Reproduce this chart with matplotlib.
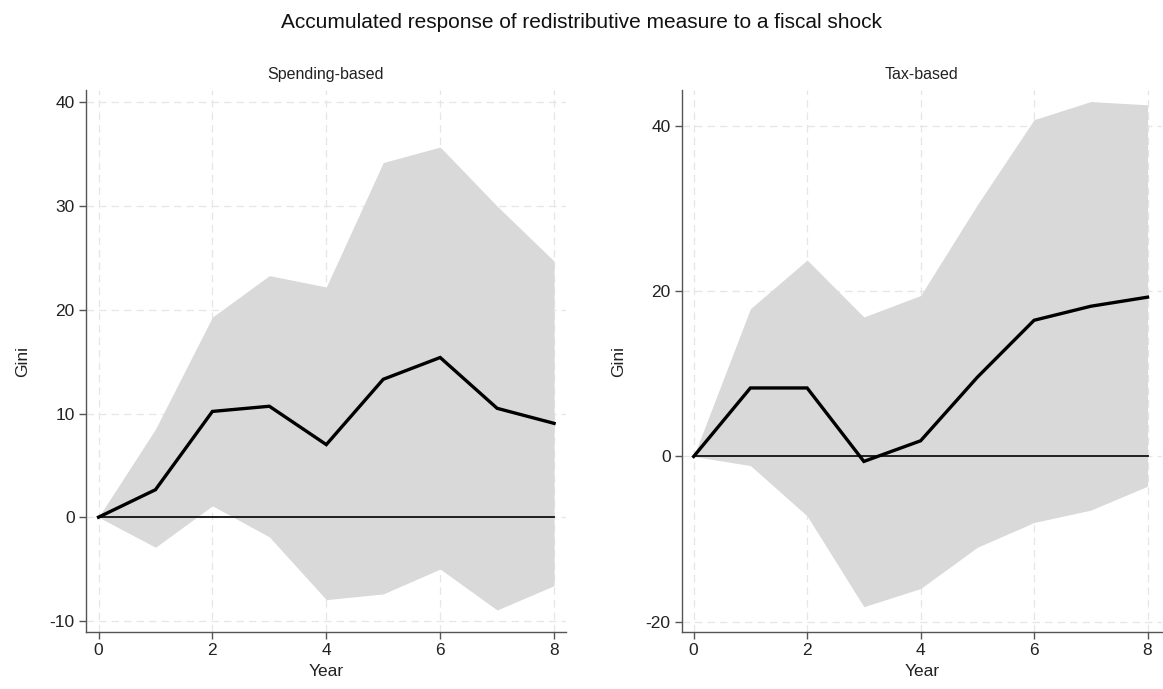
import numpy as np
import matplotlib
matplotlib.use('Agg')
import matplotlib.pyplot as plt

plt.rcParams['font.family'] = ['Liberation Sans', 'DejaVu Sans']
plt.rcParams['axes.unicode_minus'] = False

years = [0, 1, 2, 3, 4, 5, 6, 7, 8]

# spending-based shock: point estimate and confidence band
spend_irf = [0, 2.65, 10.2, 10.7, 7.0, 13.3, 15.4, 10.5, 9.05]
spend_hi = [0, 8.5, 19.3, 23.3, 22.2, 34.2, 35.7, 30.0, 24.7]
spend_lo = [0, -2.9, 1.1, -1.9, -7.95, -7.4, -5.0, -8.95, -6.6]

# tax-based shock
tax_irf = [0, 8.3, 8.3, -0.6, 1.9, 9.6, 16.5, 18.2, 19.3]
tax_hi = [0, 17.9, 23.8, 16.9, 19.5, 30.5, 40.8, 43.0, 42.6]
tax_lo = [0, -1.1, -7.2, -18.2, -16.0, -11.0, -8.0, -6.5, -3.6]

panels = [
    ('Spending-based', spend_irf, spend_lo, spend_hi, [-10, 0, 10, 20, 30, 40], (-11.1, 41.2), (-0.225, 8.21)),
    ('Tax-based', tax_irf, tax_lo, tax_hi, [-20, 0, 20, 40], (-21.3, 44.4), (-0.21, 8.25)),
]
boxes = [[0.0737, 0.0823, 0.4130, 0.7871], [0.5862, 0.0823, 0.4127, 0.7871]]

fig = plt.figure(figsize=(11.63, 6.89), dpi=100)
fig.text(0.5, 0.968, 'Accumulated response of redistributive measure to a fiscal shock',
         ha='center', va='center', fontsize=15, color='#111111')

for (name, irf, lo, hi, yticks, ylim, xlim), box in zip(panels, boxes):
    ax = fig.add_axes(box)
    ax.fill_between(years, lo, hi, color='#d9d9d9', linewidth=0, zorder=1)
    ax.plot([years[0], years[-1]], [0, 0], color='#111111', linewidth=1.3, zorder=2)
    ax.plot(years, irf, color='black', linewidth=2.4, zorder=3, solid_joinstyle='miter')

    ax.set_xlim(*xlim)
    ax.set_ylim(*ylim)
    ax.set_xticks([0, 2, 4, 6, 8])
    ax.set_yticks(yticks)
    ax.grid(True, color='#e6e6e6', linestyle=(0, (6, 4)), linewidth=0.9, zorder=0)
    ax.set_axisbelow(True)

    for side in ['top', 'right']:
        ax.spines[side].set_visible(False)
    for side in ['left', 'bottom']:
        ax.spines[side].set_color('#555555')
        ax.spines[side].set_linewidth(1.0)
    ax.tick_params(colors='#555555', labelcolor='#222222', labelsize=12.5,
                   length=5, width=1.0, pad=3)

    ax.set_title(name, fontsize=11.5, color='#222222', pad=8)
    ax.set_xlabel('Year', fontsize=12.5, color='#222222', labelpad=4)
    ax.set_ylabel('Gini', fontsize=12.5, color='#222222', labelpad=14)

fig.savefig('out.png', dpi=100)
plt.close()
